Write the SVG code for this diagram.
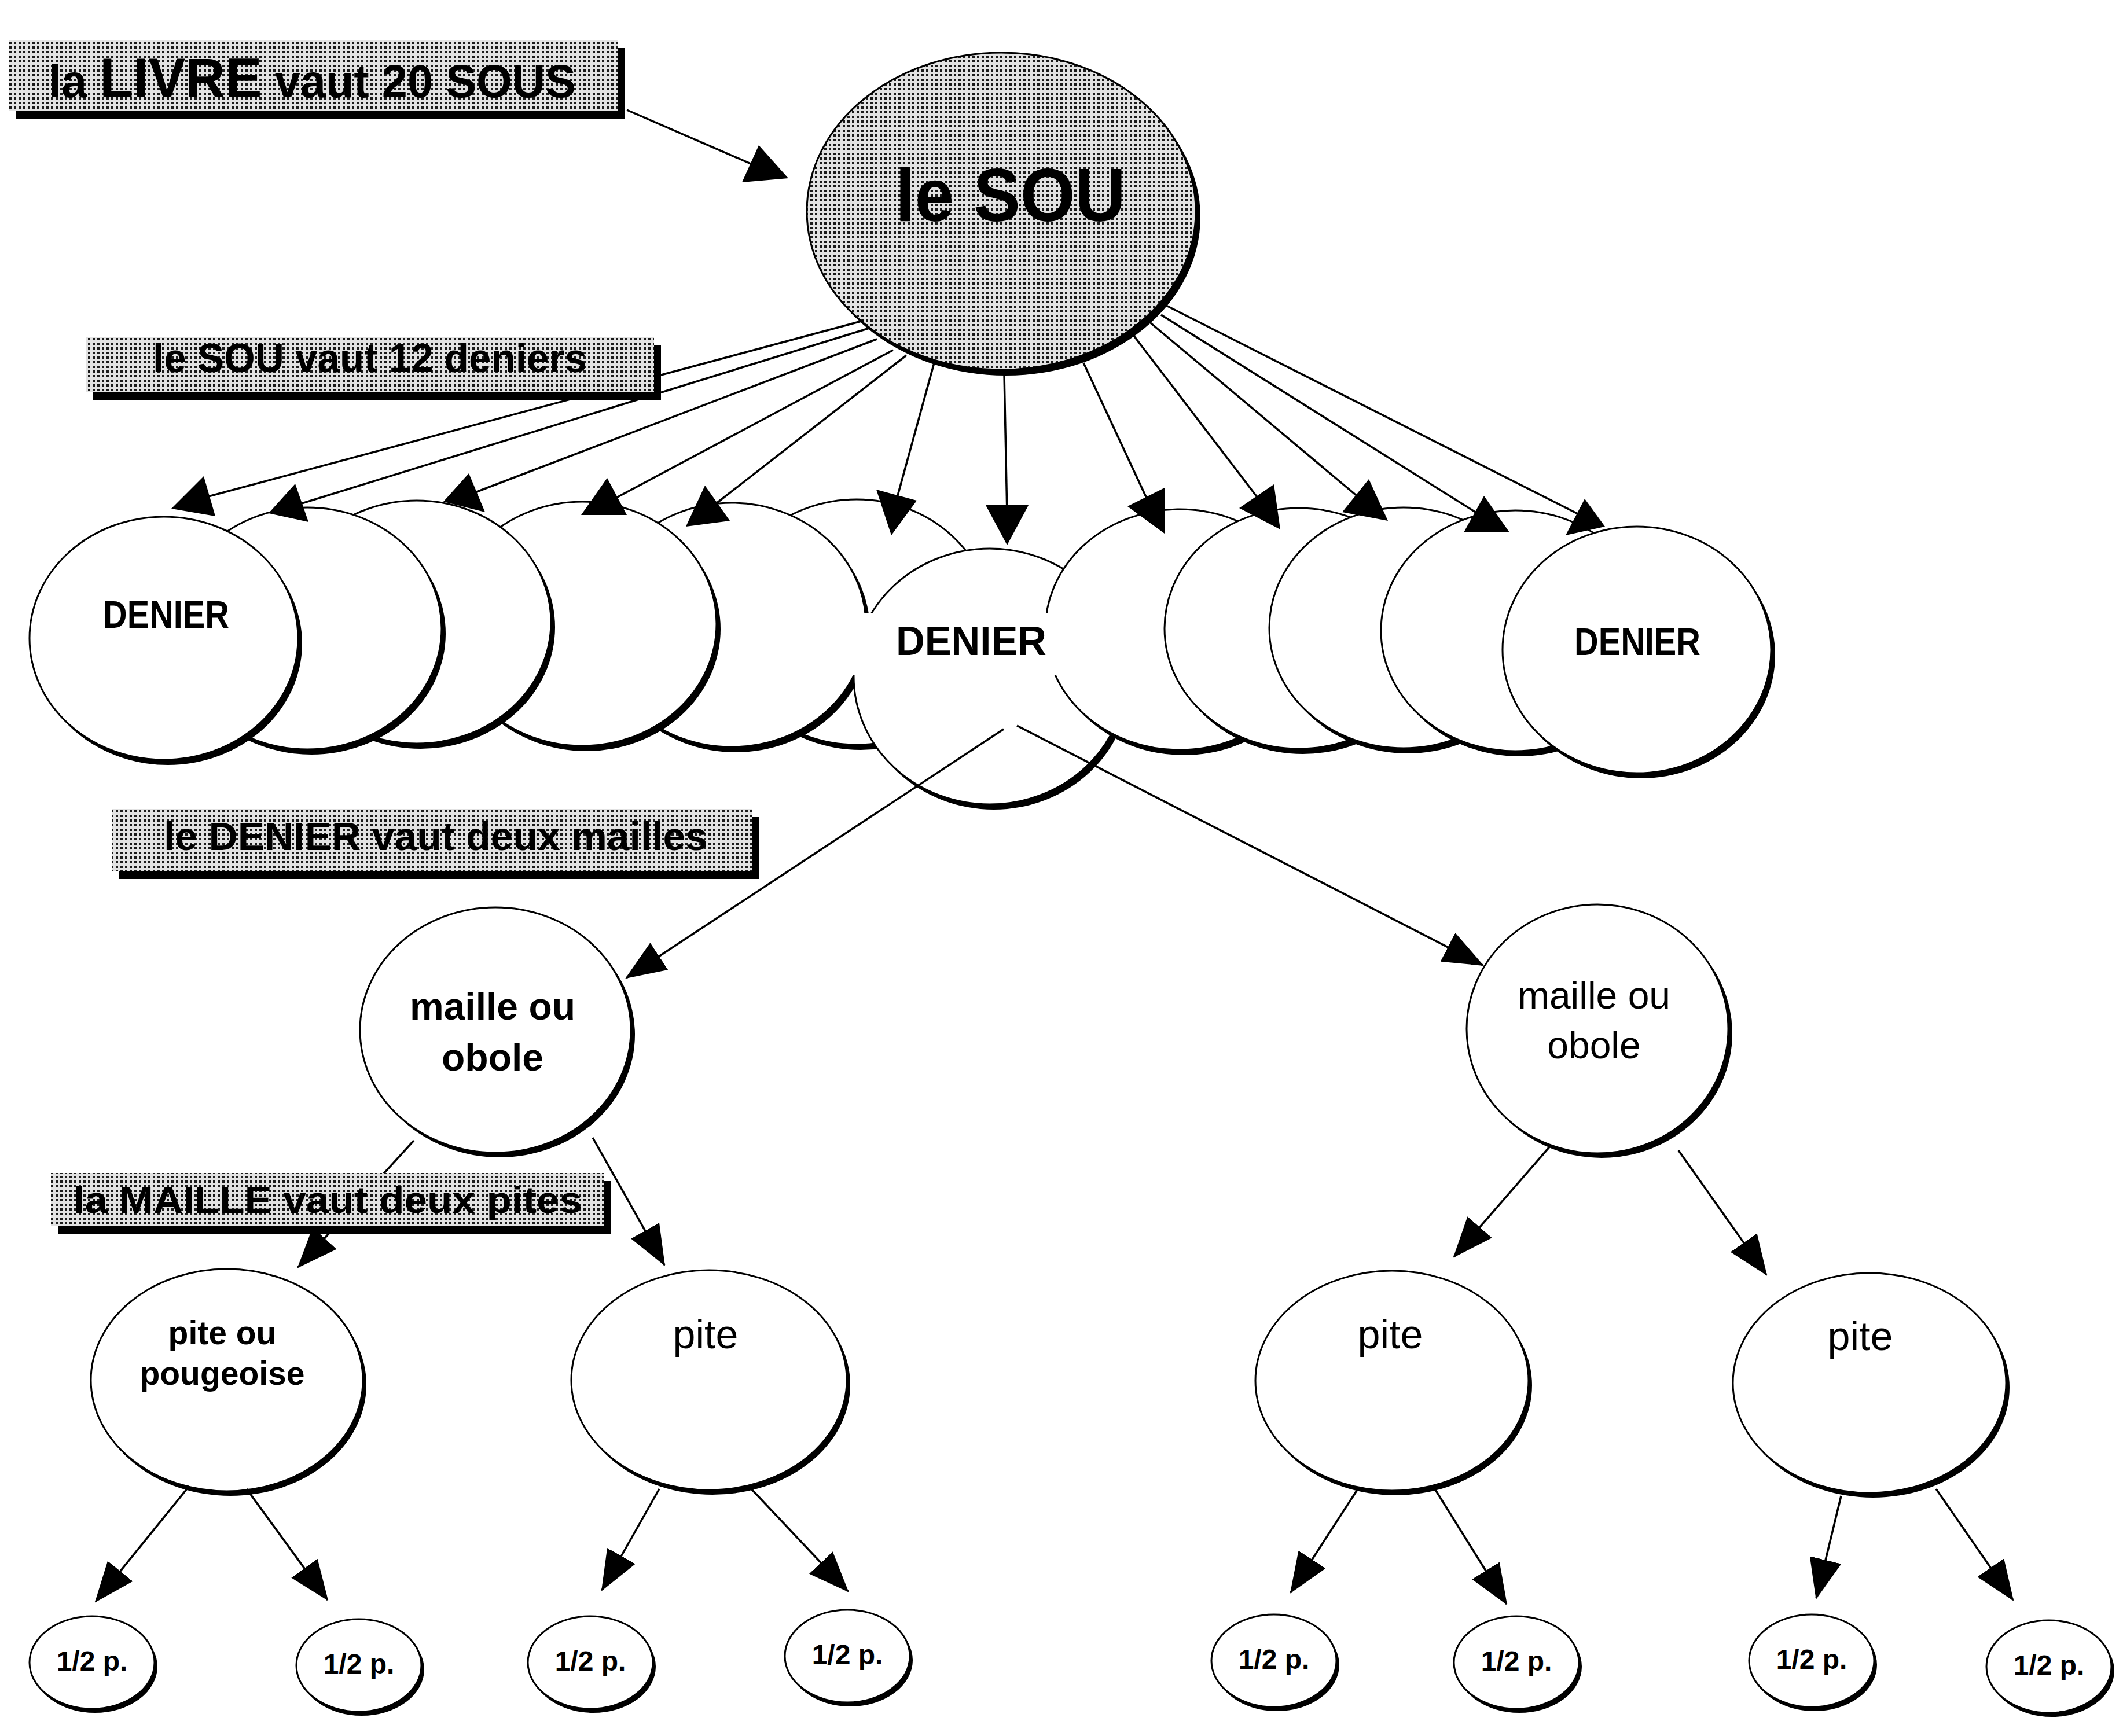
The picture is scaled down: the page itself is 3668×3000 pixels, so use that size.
<svg xmlns="http://www.w3.org/2000/svg" width="3668" height="3000" viewBox="0 0 3668 3000">
<style>
.sh{fill:#000}
.nd{fill:#fff;stroke:#000;stroke-width:3}
.pat{fill:url(#dots);stroke:#000;stroke-width:3}
.t{font-family:"Liberation Sans",Arial,sans-serif;fill:#000}
.b{font-weight:bold}
.ln{stroke:#000;stroke-width:3.5;fill:none}
.lm{stroke:#000;stroke-width:3.5;fill:none;marker-end:url(#ah)}
.ah{fill:#000}
.box{fill:url(#dots)}
</style>
<defs>
<pattern id="dots" width="8" height="8" patternUnits="userSpaceOnUse">
<rect width="8" height="8" fill="#e2e2e2"/>
<rect x="0" y="0" width="4" height="4" fill="#1a1a1a"/>
</pattern>
<marker id="ah" markerUnits="userSpaceOnUse" markerWidth="70" markerHeight="56" refX="68" refY="28" orient="auto" viewBox="0 0 70 56">
<path d="M0,0 L70,28 L0,56 z" fill="#000"/>
</marker>
</defs>
<rect width="3668" height="3000" fill="#fff"/>

<!-- SOU -->
<g id="sou">
<ellipse class="sh" cx="1738" cy="375" rx="336" ry="274"/>
<ellipse class="pat" cx="1730" cy="365" rx="336" ry="274"/>
<text class="t b" x="1547" y="382" font-size="130" textLength="398" lengthAdjust="spacingAndGlyphs">le SOU</text>
</g>

<!-- left deniers (drawn back to front) -->
<g id="denier-6"><ellipse class="sh" cx="1487" cy="1084" rx="232" ry="212"/><ellipse class="nd" cx="1480" cy="1075" rx="232" ry="212"/></g>
<g id="denier-5"><ellipse class="sh" cx="1271" cy="1089" rx="232" ry="211"/><ellipse class="nd" cx="1264" cy="1080" rx="232" ry="211"/></g>
<g id="denier-4"><ellipse class="sh" cx="1013" cy="1087" rx="232" ry="211"/><ellipse class="nd" cx="1006" cy="1078" rx="232" ry="211"/></g>
<g id="denier-3"><ellipse class="sh" cx="727" cy="1084" rx="232" ry="210"/><ellipse class="nd" cx="720" cy="1075" rx="232" ry="210"/></g>
<g id="denier-2"><ellipse class="sh" cx="538" cy="1095" rx="232" ry="209"/><ellipse class="nd" cx="531" cy="1086" rx="232" ry="209"/></g>
<g id="denier-1"><ellipse class="sh" cx="290" cy="1112" rx="232" ry="210"/><ellipse class="nd" cx="283" cy="1103" rx="232" ry="210"/>
<text class="t b" x="178" y="1085" font-size="66" textLength="218" lengthAdjust="spacingAndGlyphs">DENIER</text></g>

<!-- middle denier -->
<g id="denier-7"><ellipse class="sh" cx="1717" cy="1178" rx="235" ry="221"/><ellipse class="nd" cx="1710" cy="1169" rx="235" ry="221"/></g>

<!-- right deniers -->
<g id="denier-8"><ellipse class="sh" cx="2045" cy="1097" rx="232" ry="208"/><ellipse class="nd" cx="2038" cy="1088" rx="232" ry="208"/></g>
<g id="denier-9"><ellipse class="sh" cx="2251" cy="1095" rx="232" ry="208"/><ellipse class="nd" cx="2244" cy="1086" rx="232" ry="208"/></g>
<g id="denier-10"><ellipse class="sh" cx="2432" cy="1094" rx="232" ry="208"/><ellipse class="nd" cx="2425" cy="1085" rx="232" ry="208"/></g>
<g id="denier-11"><ellipse class="sh" cx="2625" cy="1099" rx="232" ry="208"/><ellipse class="nd" cx="2618" cy="1090" rx="232" ry="208"/></g>
<g id="denier-12"><ellipse class="sh" cx="2835" cy="1132" rx="232" ry="213"/><ellipse class="nd" cx="2828" cy="1123" rx="232" ry="213"/>
<text class="t b" x="2720" y="1132" font-size="66" textLength="218" lengthAdjust="spacingAndGlyphs">DENIER</text></g>

<g id="denier-7-label">
<rect x="1468" y="1060" width="366" height="106" fill="#fff"/>
<text class="t b" x="1548" y="1132" font-size="70" textLength="260" lengthAdjust="spacingAndGlyphs">DENIER</text>
</g>

<!-- mailles -->
<g id="maille-left"><ellipse class="sh" cx="863" cy="1788" rx="234" ry="212"/><ellipse class="nd" cx="856" cy="1780" rx="234" ry="212"/>
<text class="t b" x="851" y="1762" font-size="66" text-anchor="middle">maille ou</text>
<text class="t b" x="851" y="1850" font-size="66" text-anchor="middle">obole</text></g>
<g id="maille-right"><ellipse class="sh" cx="2767" cy="1786" rx="226" ry="215"/><ellipse class="nd" cx="2760" cy="1778" rx="226" ry="215"/>
<text class="t" x="2754" y="1743" font-size="66" text-anchor="middle">maille ou</text>
<text class="t" x="2754" y="1829" font-size="66" text-anchor="middle">obole</text></g>

<!-- pites -->
<g id="pite-1"><ellipse class="sh" cx="398" cy="2393" rx="235" ry="192"/><ellipse class="nd" cx="392" cy="2385" rx="235" ry="192"/>
<text class="t b" x="384" y="2323" font-size="57" text-anchor="middle">pite ou</text>
<text class="t b" x="384" y="2393" font-size="57" text-anchor="middle">pougeoise</text></g>
<g id="pite-2"><ellipse class="sh" cx="1231" cy="2393" rx="238" ry="190"/><ellipse class="nd" cx="1225" cy="2385" rx="238" ry="190"/>
<text class="t" x="1219" y="2330" font-size="70" text-anchor="middle">pite</text></g>
<g id="pite-3"><ellipse class="sh" cx="2411" cy="2394" rx="236" ry="190"/><ellipse class="nd" cx="2405" cy="2386" rx="236" ry="190"/>
<text class="t" x="2402" y="2330" font-size="70" text-anchor="middle">pite</text></g>
<g id="pite-4"><ellipse class="sh" cx="3236" cy="2398" rx="236" ry="190"/><ellipse class="nd" cx="3230" cy="2390" rx="236" ry="190"/>
<text class="t" x="3214" y="2333" font-size="70" text-anchor="middle">pite</text></g>

<!-- half pites -->
<g id="half-1"><ellipse class="sh" cx="164" cy="2880" rx="108" ry="80"/><ellipse class="nd" cx="159" cy="2873" rx="108" ry="80"/><text class="t b" x="159" y="2887" font-size="48" text-anchor="middle">1/2 p.</text></g>
<g id="half-2"><ellipse class="sh" cx="625" cy="2885" rx="108" ry="80"/><ellipse class="nd" cx="620" cy="2878" rx="108" ry="80"/><text class="t b" x="620" y="2892" font-size="48" text-anchor="middle">1/2 p.</text></g>
<g id="half-3"><ellipse class="sh" cx="1025" cy="2880" rx="108" ry="80"/><ellipse class="nd" cx="1020" cy="2873" rx="108" ry="80"/><text class="t b" x="1020" y="2887" font-size="48" text-anchor="middle">1/2 p.</text></g>
<g id="half-4"><ellipse class="sh" cx="1469" cy="2869" rx="108" ry="80"/><ellipse class="nd" cx="1464" cy="2862" rx="108" ry="80"/><text class="t b" x="1464" y="2876" font-size="48" text-anchor="middle">1/2 p.</text></g>
<g id="half-5"><ellipse class="sh" cx="2206" cy="2877" rx="108" ry="80"/><ellipse class="nd" cx="2201" cy="2870" rx="108" ry="80"/><text class="t b" x="2201" y="2884" font-size="48" text-anchor="middle">1/2 p.</text></g>
<g id="half-6"><ellipse class="sh" cx="2625" cy="2880" rx="108" ry="80"/><ellipse class="nd" cx="2620" cy="2873" rx="108" ry="80"/><text class="t b" x="2620" y="2887" font-size="48" text-anchor="middle">1/2 p.</text></g>
<g id="half-7"><ellipse class="sh" cx="3135" cy="2877" rx="108" ry="80"/><ellipse class="nd" cx="3130" cy="2870" rx="108" ry="80"/><text class="t b" x="3130" y="2884" font-size="48" text-anchor="middle">1/2 p.</text></g>
<g id="half-8"><ellipse class="sh" cx="3545" cy="2887" rx="108" ry="80"/><ellipse class="nd" cx="3540" cy="2880" rx="108" ry="80"/><text class="t b" x="3540" y="2894" font-size="48" text-anchor="middle">1/2 p.</text></g>

<!-- connectors -->
<g id="connectors">
<line class="ln" x1="1083" y1="190" x2="1318" y2="292"/>
<polygon class="ah" points="1282,315 1311,251 1362,308"/>

<line class="ln" x1="1492" y1="554" x2="345" y2="862"/>
<line class="ln" x1="1502" y1="567" x2="505" y2="875"/>
<line class="ln" x1="1515" y1="586" x2="805" y2="857"/>
<line class="ln" x1="1543" y1="605" x2="1050" y2="868"/>
<line class="ln" x1="1566" y1="614" x2="1222" y2="882"/>
<line class="ln" x1="1614" y1="627" x2="1545" y2="878"/>
<line class="ln" x1="1735" y1="646" x2="1740" y2="890"/>
<line class="ln" x1="1872" y1="627" x2="1990" y2="880"/>
<line class="ln" x1="1958" y1="579" x2="2185" y2="876"/>
<line class="ln" x1="1983" y1="554" x2="2360" y2="870"/>
<line class="ln" x1="2006" y1="544" x2="2565" y2="895"/>
<line class="ln" x1="2009" y1="525" x2="2740" y2="895"/>
<polygon class="ah" points="296,879 352,823 372,892"/>
<polygon class="ah" points="464,887 510,836 533,902"/>
<polygon class="ah" points="766,867 810,818 838,885"/>
<polygon class="ah" points="1004,890 1049,826 1083,890"/>
<polygon class="ah" points="1185,910 1218,839 1261,900"/>
<polygon class="ah" points="1514,846 1540,925 1584,865"/>
<polygon class="ah" points="1703,873 1777,873 1740,942"/>
<polygon class="ah" points="1948,875 2012,843 2012,922"/>
<polygon class="ah" points="2141,878 2201,837 2212,915"/>
<polygon class="ah" points="2319,885 2365,828 2398,900"/>
<polygon class="ah" points="2529,920 2564,857 2608,920"/>
<polygon class="ah" points="2705,925 2738,862 2773,910"/>

<line class="lm" x1="1734" y1="1260" x2="1082" y2="1690"/>
<line class="lm" x1="1757" y1="1254" x2="2562" y2="1668"/>

<line class="lm" x1="715" y1="1971" x2="515" y2="2190"/>
<line class="lm" x1="1024" y1="1966" x2="1148" y2="2186"/>
<line class="lm" x1="2678" y1="1981" x2="2512" y2="2172"/>
<line class="lm" x1="2900" y1="1988" x2="3052" y2="2203"/>

<line class="lm" x1="327" y1="2568" x2="165" y2="2768"/>
<line class="lm" x1="426" y1="2573" x2="566" y2="2765"/>
<line class="lm" x1="1139" y1="2573" x2="1040" y2="2748"/>
<line class="lm" x1="1298" y1="2573" x2="1465" y2="2750"/>
<line class="lm" x1="2346" y1="2573" x2="2230" y2="2752"/>
<line class="lm" x1="2479" y1="2573" x2="2603" y2="2772"/>
<line class="lm" x1="3181" y1="2585" x2="3138" y2="2762"/>
<line class="lm" x1="3345" y1="2573" x2="3478" y2="2765"/>
</g>

<!-- label boxes -->
<g id="label-livre">
<rect class="sh" x="27" y="83" width="1053" height="123"/>
<rect class="box" x="15" y="69" width="1053" height="123"/>
<text class="t b" x="84" y="168" font-size="80" textLength="911" lengthAdjust="spacingAndGlyphs">la <tspan font-size="96">LIVRE</tspan> vaut  20 SOUS</text>
</g>
<g id="label-sou">
<rect class="sh" x="161" y="596" width="981" height="96"/>
<rect class="box" x="149" y="582" width="981" height="96"/>
<text class="t b" x="264" y="643" font-size="70" textLength="750" lengthAdjust="spacingAndGlyphs">le SOU vaut 12 deniers</text>
</g>
<g id="label-denier">
<rect class="sh" x="206" y="1412" width="1106" height="107"/>
<rect class="box" x="194" y="1398" width="1106" height="107"/>
<text class="t b" x="283" y="1469" font-size="68" textLength="940" lengthAdjust="spacingAndGlyphs">le DENIER vaut deux mailles</text>
</g>
<g id="label-maille">
<rect class="sh" x="100" y="2041" width="955" height="91"/>
<rect class="box" x="88" y="2027" width="955" height="91"/>
<text class="t b" x="127" y="2096" font-size="64" textLength="879" lengthAdjust="spacingAndGlyphs">la MAILLE vaut deux pites</text>
</g>
</svg>
